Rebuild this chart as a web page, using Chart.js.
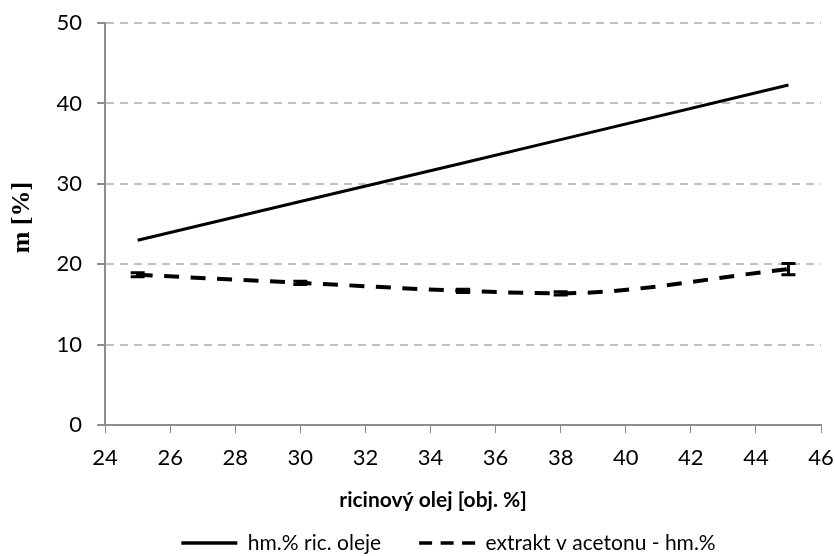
<!DOCTYPE html>
<html>
<head>
<meta charset="utf-8">
<script src="https://cdn.jsdelivr.net/npm/chart.js@4"></script>
<style>
  html, body { margin: 0; padding: 0; background: #fff; }
  #wrap { width: 835px; height: 556px; }
</style>
</head>
<body>
<div id="wrap"><canvas id="chart" width="835" height="556"></canvas></div>
<script>
// values
const oilX = [25, 30, 35, 38, 45];
const oilValues = [23.0, 27.8, 32.6, 35.5, 42.3];
const extractX = [25, 30, 35, 38, 45];
const extractValues = [18.7, 17.7, 16.7, 16.4, 19.4];
const extractErrors = [0.25, 0.2, 0.2, 0.2, 0.7];
const xTicks = [24, 26, 28, 30, 32, 34, 36, 38, 40, 42, 44, 46];
const yTicks = [0, 10, 20, 30, 40, 50];

const labelFont = { family: 'Lato, "Open Sans", sans-serif', size: 22 };
const legendFont = { family: labelFont.family, size: 21 };

// draws the small error bars on the dashed series
const errorBars = {
    id: 'errorBars',
    afterDatasetsDraw(chart) {
        const ctx = chart.ctx;
        const xs = chart.scales.x, ys = chart.scales.y;
        ctx.save();
        ctx.strokeStyle = '#000';
        ctx.lineWidth = 3;
        extractX.forEach((x, i) => {
            const px = xs.getPixelForValue(x);
            const top = ys.getPixelForValue(extractValues[i] + extractErrors[i]);
            const bot = ys.getPixelForValue(extractValues[i] - extractErrors[i]);
            ctx.beginPath();
            ctx.moveTo(px, top); ctx.lineTo(px, bot);
            ctx.moveTo(px - 7, top); ctx.lineTo(px + 7, top);
            ctx.moveTo(px - 7, bot); ctx.lineTo(px + 7, bot);
            ctx.stroke();
        });
        ctx.restore();
    }
};

// the legend sits lower and a little right of centre in the reference,
// the axis titles are not centred on the plot area either
const nudge = {
    id: 'nudge',
    afterLayout(chart) {
        const lg = chart.legend;
        lg.left += 36;
        lg.right += 36;
        lg.top += 7.5;
        lg.bottom += 7.5;

        const sx = chart.scales.x, sy = chart.scales.y;
        if (!sx._titleWrapped) {
            const drawX = sx.drawTitle;
            sx.drawTitle = function() {
                const l = this.left;
                this.left -= 60;
                drawX.call(this);
                this.left = l;
            };
            sx._titleWrapped = true;
        }
        if (!sy._titleWrapped) {
            const drawY = sy.drawTitle;
            sy.drawTitle = function() {
                const t = this.top;
                this.top -= 13;
                drawY.call(this);
                this.top = t;
            };
            sy._titleWrapped = true;
        }
    }
};

const legendDash = [[], [13, 8.5]];

new Chart(document.getElementById('chart').getContext('2d'), {
    type: 'line',
    data: {
        datasets: [{
            label: 'hm.% ric. oleje',
            data: oilX.map((x, i) => ({ x: x, y: oilValues[i] })),
            borderColor: '#000',
            backgroundColor: 'transparent',
            borderWidth: 3,
            pointRadius: 0,
            pointStyle: 'line',
            tension: 0
        }, {
            label: 'extrakt v acetonu - hm.%',
            data: extractX.map((x, i) => ({ x: x, y: extractValues[i] })),
            borderColor: '#000',
            backgroundColor: 'transparent',
            borderWidth: 4,
            borderDash: [15, 11.5],
            pointRadius: 0,
            pointStyle: 'line',
            cubicInterpolationMode: 'monotone'
        }]
    },
    options: {
        responsive: false,
        animation: false,
        layout: { padding: { left: 4, right: 14, top: 23, bottom: 0 } },
        plugins: {
            legend: {
                position: 'bottom',
                labels: {
                    color: '#000',
                    font: legendFont,
                    usePointStyle: true,
                    pointStyleWidth: 56,
                    boxHeight: 10,
                    padding: 38,
                    generateLabels: chart => Chart.defaults.plugins.legend.labels.generateLabels(chart).map((item, i) => {
                        item.lineDash = legendDash[i];
                        item.lineWidth = 3.5;
                        item.strokeStyle = '#000';
                        item.fillStyle = '#000';
                        return item;
                    })
                }
            },
            tooltip: { enabled: false }
        },
        scales: {
            x: {
                type: 'linear',
                min: 24, max: 46,
                afterBuildTicks: s => { s.ticks = xTicks.map(v => ({ value: v })); },
                afterFit: s => { s.paddingRight = 0; s.paddingLeft = 0; },
                grid: { display: true, drawOnChartArea: false, tickLength: 8, tickColor: '#8c8c8c', color: '#8c8c8c' },
                border: { color: '#8c8c8c', width: 2 },
                ticks: { color: '#000', font: labelFont, padding: 11.8 },
                title: {
                    display: true,
                    text: 'ricinový olej [obj. %]',
                    color: '#000',
                    font: { family: labelFont.family, size: 21, weight: 'bold' },
                    padding: { top: 4.8, bottom: -26.2 }
                }
            },
            y: {
                min: 0, max: 50,
                afterBuildTicks: s => { s.ticks = yTicks.map(v => ({ value: v })); },
                afterFit: s => { s.paddingTop = 0; s.paddingBottom = 0; },
                grid: {
                    color: ctx => ctx.tick && ctx.tick.value === 0 ? 'transparent' : '#c0c0c0',
                    lineWidth: 2,
                    tickBorderDash: [],
                    tickColor: '#8c8c8c',
                    tickLength: 8
                },
                border: { color: '#8c8c8c', width: 2, dash: [8, 6] },
                ticks: { color: '#000', font: labelFont, padding: 15 },
                title: {
                    display: true,
                    text: 'm [%]',
                    color: '#000',
                    font: { family: '"Liberation Serif", "DejaVu Serif", serif', size: 26, weight: 'bold' },
                    padding: { top: 3, bottom: 3.4 }
                }
            }
        }
    },
    plugins: [errorBars, nudge]
});
</script>
</body>
</html>
